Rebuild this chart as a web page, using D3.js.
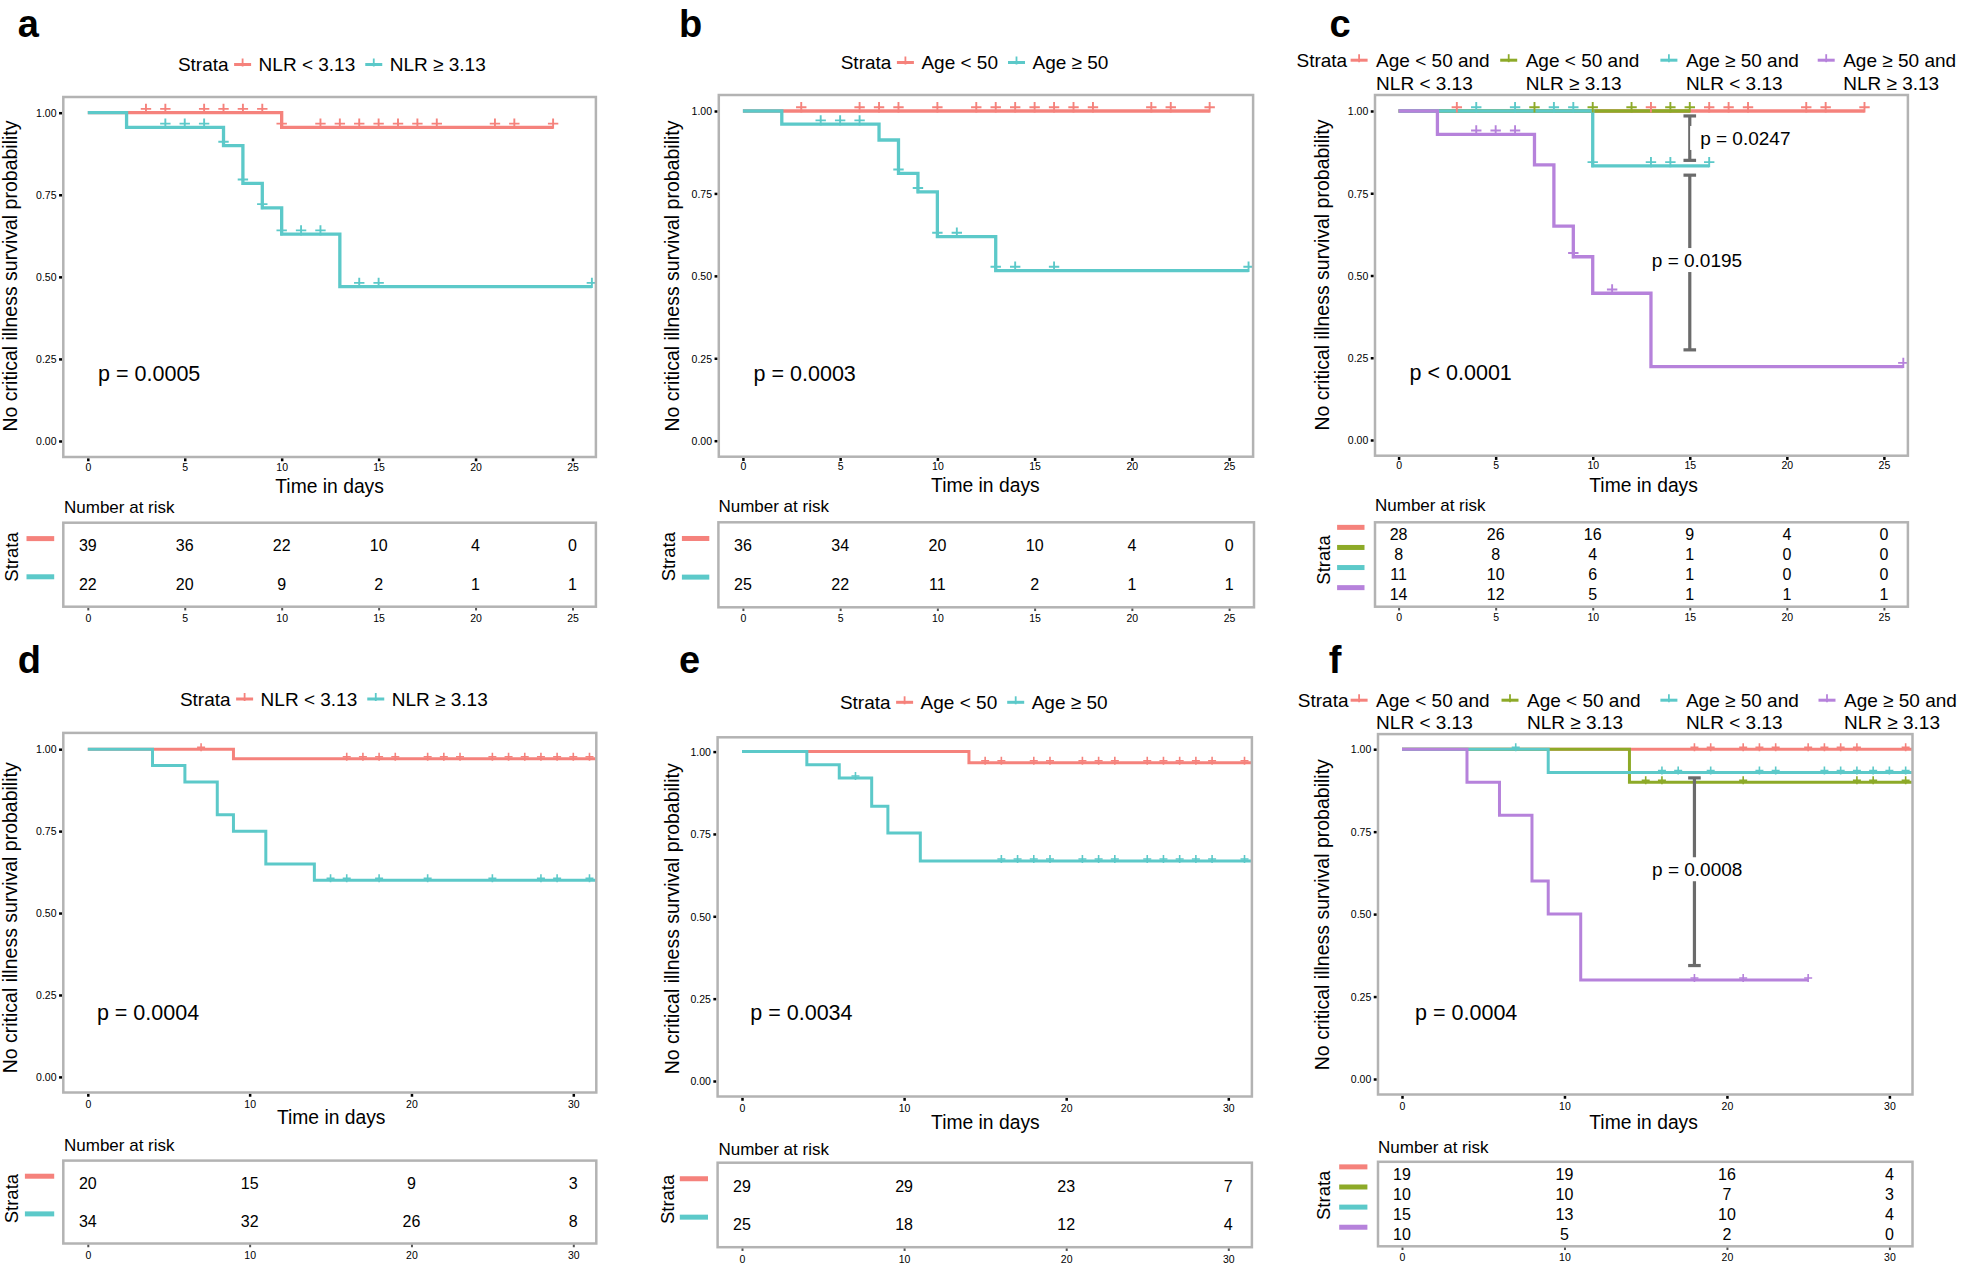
<!DOCTYPE html>
<html><head><meta charset="utf-8">
<script src="https://cdn.jsdelivr.net/npm/d3@7"></script>
<style>body{margin:0;background:#fff;}</style>
</head><body>
<script>
// ---------------- DATA ----------------
const RED = "#F5827C", GREEN = "#8DAA28", TEAL = "#5CC9C9", PURPLE = "#B682DB", BRACKET = "#6B6B6B";

const yTicks = [0, 0.25, 0.5, 0.75, 1];
const xTicks25 = [0, 5, 10, 15, 20, 25];
const xTicks30 = [0, 10, 20, 30];

// Panel a : NLR
const aCats = ["NLR < 3.13", "NLR \u2265 3.13"];
const aLowTime = [0, 10, 24];
const aLowSurv = [1, 0.955, 0.955];
const aLowCens = [3, 4, 6, 7, 8, 9, 10, 12, 13, 14, 15, 16, 17, 18, 21, 22, 24];
const aHighTime = [0, 2, 7, 8, 9, 10, 13, 26];
const aHighSurv = [1, 0.955, 0.90, 0.785, 0.71, 0.63, 0.47, 0.47];
const aHighCens = [4, 5, 6, 7, 8, 9, 10, 11, 12, 14, 15, 26];
const aRiskLow = [39, 36, 22, 10, 4, 0];
const aRiskHigh = [22, 20, 9, 2, 1, 1];
const aP = "p = 0.0005";

// Panel b : Age
const bCats = ["Age < 50", "Age \u2265 50"];
const bYoungTime = [0, 24];
const bYoungSurv = [1, 1];
const bYoungCens = [3, 6, 7, 8, 10, 12, 13, 14, 15, 16, 17, 18, 21, 22, 24];
const bOldTime = [0, 2, 7, 8, 9, 10, 13, 26];
const bOldSurv = [1, 0.96, 0.912, 0.811, 0.755, 0.619, 0.516, 0.516];
const bOldCens = [4, 5, 6, 8, 9, 10, 11, 13, 14, 16, 26];
const bRiskYoung = [36, 34, 20, 10, 4, 0];
const bRiskOld = [25, 22, 11, 2, 1, 1];
const bP = "p = 0.0003";

// Panel c : Age x NLR
const cCats = ["Age < 50 and\nNLR < 3.13", "Age < 50 and\nNLR \u2265 3.13", "Age \u2265 50 and\nNLR < 3.13", "Age \u2265 50 and\nNLR \u2265 3.13"];
const cG1Time = [0, 24], cG1Surv = [1, 1];
const cG1Cens = [3, 13, 16, 17, 18, 21, 22, 24];
const cG2Time = [0, 15], cG2Surv = [1, 1];
const cG2Cens = [7, 10, 12, 14, 15];
const cG3Time = [0, 10, 16], cG3Surv = [1, 0.833, 0.833];
const cG3Cens = [4, 6, 8, 9, 10, 13, 14, 16];
const cG4Time = [0, 2, 7, 8, 9, 10, 13, 26];
const cG4Surv = [1, 0.929, 0.836, 0.65, 0.557, 0.446, 0.223, 0.223];
const cG4Cens = [4, 5, 6, 9, 11, 26];
const cRisk1 = [28, 26, 16, 9, 4, 0];
const cRisk2 = [8, 8, 4, 1, 0, 0];
const cRisk3 = [11, 10, 6, 1, 0, 0];
const cRisk4 = [14, 12, 5, 1, 1, 1];
const cP = "p < 0.0001";
const cBracketX = [15, 15];
const cBracketLow = [0.85, 0.274];
const cBracketHigh = [0.985, 0.805];
const cBracketText = ["p = 0.0247", "p = 0.0195"];
const cBracketTextX = [17.86, 15.37];
const cBracketTextY = [0.918, 0.547];

// Panel d : NLR (second cohort)
const dCats = ["NLR < 3.13", "NLR \u2265 3.13"];
const dLowTime = [0, 9, 31.6], dLowSurv = [1, 0.971, 0.971];
const dLowCens = [7, 16, 17, 18, 19, 21, 22, 23, 25, 26, 27, 28, 29, 30, 31];
const dHighTime = [0, 4, 6, 8, 9, 11, 14, 31.6];
const dHighSurv = [1, 0.95, 0.90, 0.80, 0.75, 0.65, 0.60, 0.60];
const dHighCens = [15, 16, 18, 21, 25, 28, 29, 31];
const dRiskLow = [20, 15, 9, 3];
const dRiskHigh = [34, 32, 26, 8];
const dP = "p = 0.0004";

// Panel e : Age (second cohort)
const eCats = ["Age < 50", "Age \u2265 50"];
const eYoungTime = [0, 14, 31.6], eYoungSurv = [1, 0.966, 0.966];
const eYoungCens = [15, 16, 18, 19, 21, 22, 23, 25, 26, 27, 28, 29, 31];
const eOldTime = [0, 4, 6, 8, 9, 11, 31.6];
const eOldSurv = [1, 0.96, 0.92, 0.834, 0.753, 0.668, 0.668];
const eOldCens = [7, 16, 17, 18, 19, 21, 22, 23, 25, 26, 27, 28, 29, 31];
const eRiskYoung = [29, 29, 23, 7];
const eRiskOld = [25, 18, 12, 4];
const eP = "p = 0.0034";

// Panel f : Age x NLR (second cohort)
const fCats = cCats;
const fG1Time = [0, 31.6], fG1Surv = [1, 1];
const fG1Cens = [18, 19, 21, 22, 23, 25, 26, 27, 28, 31];
const fG2Time = [0, 14, 31.6], fG2Surv = [1, 0.90, 0.90];
const fG2Cens = [15, 16, 21, 28, 29, 31];
const fG3Time = [0, 9, 31.6], fG3Surv = [1, 0.929, 0.929];
const fG3Cens = [7, 16, 17, 19, 22, 23, 26, 27, 28, 29, 30, 31];
const fG4Time = [0, 4, 6, 8, 9, 11, 25];
const fG4Surv = [1, 0.90, 0.80, 0.60, 0.50, 0.30, 0.30];
const fG4Cens = [18, 21, 25];
const fRisk1 = [19, 19, 16, 4];
const fRisk2 = [10, 10, 7, 3];
const fRisk3 = [15, 13, 10, 4];
const fRisk4 = [10, 5, 2, 0];
const fP = "p = 0.0004";
const fBracketX = [18];
const fBracketLow = [0.344];
const fBracketHigh = [0.913];
const fBracketText = ["p = 0.0008"];
const fBracketTextX = [18.17];
const fBracketTextY = [0.636];

// ---------------- LAYOUT ----------------
const FONT = '"Liberation Sans", Arial, Helvetica, sans-serif';
const C2 = [RED, TEAL], C4 = [RED, GREEN, TEAL, PURPLE];
function mk(t, s, c) { return {time: t, surv: s, cens: c}; }
function br(xs, lo, hi, tx, lx, ly) { return xs.map((v, i) => ({x: v, lo: lo[i], hi: hi[i], text: tx[i], lx: lx[i], ly: ly[i]})); }

const panels = [
 {letter: "a", cats: aCats, colors: C2, curves: [mk(aLowTime, aLowSurv, aLowCens), mk(aHighTime, aHighSurv, aHighCens)],
  xTicks: xTicks25, risk: [aRiskLow, aRiskHigh], p: aP, brackets: [],
  L: {rect: [63.3, 97, 595.9, 457], xr: [87.8, 572.5], yr: [441, 112.7], letter: [17.8, 36.7], legend: {x: 177.9, y: 71},
      ytitle: [16.5, 276], xtitle: [329.6, 492.5], xtick: 470.7, p: [98.1, 381], thin: false,
      risk: {title: [64, 513.3], box: [63.3, 522.7, 595.9, 606.7], tick: 621.7, strata: [17.8, 557], bar: [26.5, 54.2]}}},
 {letter: "b", cats: bCats, colors: C2, curves: [mk(bYoungTime, bYoungSurv, bYoungCens), mk(bOldTime, bOldSurv, bOldCens)],
  xTicks: xTicks25, risk: [bRiskYoung, bRiskOld], p: bP, brackets: [],
  L: {rect: [718.8, 95, 1253.1, 456.7], xr: [742.9, 1229.1], yr: [440.7, 111], letter: [679, 36.7], legend: {x: 840.7, y: 69},
      ytitle: [679, 276], xtitle: [985.4, 492.3], xtick: 470, p: [753.6, 381], thin: false,
      risk: {title: [718.4, 512.3], box: [718.4, 522.3, 1254, 607.3], tick: 621.7, strata: [675, 556.7], bar: [681.9, 709.3]}}},
 {letter: "c", cats: cCats, colors: C4, curves: [mk(cG1Time, cG1Surv, cG1Cens), mk(cG2Time, cG2Surv, cG2Cens), mk(cG3Time, cG3Surv, cG3Cens), mk(cG4Time, cG4Surv, cG4Cens)],
  xTicks: xTicks25, risk: [cRisk1, cRisk2, cRisk3, cRisk4], p: cP,
  brackets: br(cBracketX, cBracketLow, cBracketHigh, cBracketText, cBracketTextX, cBracketTextY),
  L: {rect: [1375, 95, 1907.9, 455.7], xr: [1398.6, 1883.9], yr: [440, 111], letter: [1329.5, 36.7],
      legend: {multi: true, y1: 66.7, y2: 90, strataEnd: 1347.2, sw: [1350.6, 1500.2, 1660.4, 1817.7]},
      ytitle: [1329.3, 275], xtitle: [1643.6, 492.3], xtick: 469.3, p: [1409.6, 380], thin: false,
      risk: {title: [1375, 510.7], box: [1375, 522.3, 1907.9, 606.7], tick: 620.7, strata: [1329.5, 560], bar: [1337.1, 1364.5]}}},
 {letter: "d", cats: dCats, colors: C2, curves: [mk(dLowTime, dLowSurv, dLowCens), mk(dHighTime, dHighSurv, dHighCens)],
  xTicks: xTicks30, risk: [dRiskLow, dRiskHigh], p: dP, brackets: [],
  L: {rect: [63.3, 732.9, 596.3, 1092.5], xr: [87.8, 573.3], yr: [1076.9, 749.2], letter: [17.8, 672.9], legend: {x: 179.9, y: 705.5},
      ytitle: [16.5, 917.8], xtitle: [331.2, 1123.9], xtick: 1108.4, p: [96.9, 1019.8], thin: true,
      risk: {title: [64, 1151.2], box: [63.3, 1160.6, 596.3, 1243.5], tick: 1258.6, strata: [17.8, 1198.6], bar: [24.9, 54.2]}}},
 {letter: "e", cats: eCats, colors: C2, curves: [mk(eYoungTime, eYoungSurv, eYoungCens), mk(eOldTime, eOldSurv, eOldCens)],
  xTicks: xTicks30, risk: [eRiskYoung, eRiskOld], p: eP, brackets: [],
  L: {rect: [717.6, 737.3, 1251.9, 1096.5], xr: [742, 1228.3], yr: [1081, 751.6], letter: [679, 672.9], legend: {x: 839.9, y: 708.8},
      ytitle: [679, 918.8], xtitle: [985.4, 1128.8], xtick: 1111.6, p: [750.3, 1019.8], thin: true,
      risk: {title: [718.4, 1155.3], box: [717.6, 1162.7, 1251.9, 1247.2], tick: 1262.7, strata: [674, 1199.4], bar: [679.8, 708]}}},
 {letter: "f", cats: fCats, colors: C4, curves: [mk(fG1Time, fG1Surv, fG1Cens), mk(fG2Time, fG2Surv, fG2Cens), mk(fG3Time, fG3Surv, fG3Cens), mk(fG4Time, fG4Surv, fG4Cens)],
  xTicks: xTicks30, risk: [fRisk1, fRisk2, fRisk3, fRisk4], p: fP,
  brackets: br(fBracketX, fBracketLow, fBracketHigh, fBracketText, fBracketTextX, fBracketTextY),
  L: {rect: [1378, 734.1, 1912.5, 1094.5], xr: [1402, 1889.4], yr: [1079, 749.2], letter: [1328.7, 672.9],
      legend: {multi: true, y1: 706.7, y2: 729.2, strataEnd: 1348.5, sw: [1350.6, 1501.5, 1660.4, 1818.5]},
      ytitle: [1329.3, 914.7], xtitle: [1643.6, 1128.8], xtick: 1109.6, p: [1415.1, 1019.8], thin: true,
      risk: {title: [1378, 1153.3], box: [1378, 1161.8, 1912.5, 1246.3], tick: 1260.6, strata: [1329.5, 1195.3], bar: [1339.2, 1367.4]}}}
];

// ---------------- DRAW ----------------
const svg = d3.select("body").append("svg").attr("width", 1961).attr("height", 1270)
  .style("font-family", FONT);
svg.append("rect").attr("width", 1961).attr("height", 1270).attr("fill", "#fff");

function T(g, x, y, str, size, o = {}) {
  const t = g.append("text").attr("font-size", size).attr("fill", o.fill || "#000")
    .attr("font-family", FONT)
    .attr("text-anchor", o.anchor || "start").attr("font-weight", o.weight || "normal").text(str);
  t.attr("transform", o.rot ? `translate(${x},${y}) rotate(-90)` : `translate(${x},${y})`);
  if (o.dy) t.attr("dy", o.dy);
  return t;
}
const tw = t => t.node().getComputedTextLength();

function stepAt(c, t) {
  let s = c.surv[0];
  for (let i = 0; i < c.time.length; i++) if (c.time[i] <= t) s = c.surv[i];
  return s;
}

const SW = 17;
function swatch(g, x0, yy, col) {
  g.append("line").attr("x1", x0).attr("x2", x0 + SW).attr("y1", yy).attr("y2", yy)
    .attr("stroke", col).attr("stroke-width", 3);
  g.append("line").attr("x1", x0 + SW / 2).attr("x2", x0 + SW / 2).attr("y1", yy - 6).attr("y2", yy + 2)
    .attr("stroke", col).attr("stroke-width", 1.8);
}

const BORDER = "#B3B3B3";

panels.forEach(P => {
  const L = P.L, g = svg.append("g");
  const [x0, y0, x1, y1] = L.rect;
  const x = d3.scaleLinear().domain([0, P.xTicks[P.xTicks.length - 1]]).range(L.xr);
  const y = d3.scaleLinear().domain([0, 1]).range(L.yr);

  T(g, L.letter[0], L.letter[1], P.letter, 38, {weight: "bold"});

  // legend
  if (L.legend.multi) {
    T(g, L.legend.strataEnd, L.legend.y1, "Strata", 19, {anchor: "end"});
    P.cats.forEach((c, i) => {
      const sx = L.legend.sw[i];
      swatch(g, sx, L.legend.y1 - 6.5, P.colors[i]);
      const lines = c.split("\n");
      T(g, sx + 25.5, L.legend.y1, lines[0], 19);
      T(g, sx + 25.5, L.legend.y2, lines[1], 19);
    });
  } else {
    let cx = L.legend.x; const by = L.legend.y;
    const st = T(g, cx, by, "Strata", 19); cx += tw(st) + 5.5;
    P.cats.forEach((c, i) => {
      swatch(g, cx, by - 6.5, P.colors[i]); cx += SW + 7.5;
      const t = T(g, cx, by, c, 19); cx += tw(t) + 10;
    });
  }

  g.append("rect").attr("x", x0).attr("y", y0).attr("width", x1 - x0).attr("height", y1 - y0).attr("fill", "#fff");

  // axes
  const ya = g.append("g").attr("transform", `translate(${x0 - 1.25},0)`)
    .call(d3.axisLeft(y).tickValues(yTicks).tickFormat(d3.format(".2f")).tickSize(3).tickPadding(2.5));
  ya.select(".domain").remove();
  ya.attr("font-family", FONT).attr("font-size", 10.5);
  ya.selectAll(".tick line").attr("stroke", "#000").attr("stroke-width", 2.5);
  ya.selectAll(".tick text").attr("fill", "#000").attr("dy", "0.36em");

  const xaY = y1 + 1.25;
  const xa = g.append("g").attr("transform", `translate(0,${xaY})`)
    .call(d3.axisBottom(x).tickValues(P.xTicks).tickSize(3));
  xa.select(".domain").remove();
  xa.attr("font-family", FONT).attr("font-size", 10.5);
  xa.selectAll(".tick line").attr("stroke", "#000").attr("stroke-width", 2.5);
  xa.selectAll(".tick text").attr("fill", "#000").attr("y", L.xtick - xaY).attr("dy", 0);

  // curves
  const cid = "clip-" + P.letter;
  g.append("clipPath").attr("id", cid).append("rect")
    .attr("x", x0).attr("y", y0).attr("width", x1 - x0).attr("height", y1 - y0);
  const pg = g.append("g").attr("clip-path", `url(#${cid})`);
  const lw = L.thin ? 3 : 3.3;
  const line = d3.line().x(d => x(d[0])).y(d => y(d[1])).curve(d3.curveStepAfter);
  P.curves.forEach((c, i) => {
    pg.append("path").attr("d", line(c.time.map((t, k) => [t, c.surv[k]])))
      .attr("fill", "none").attr("stroke", P.colors[i]).attr("stroke-width", lw)
      .attr("stroke-linejoin", "miter").attr("stroke-linecap", "butt");
  });
  const ms = L.thin ? 4 : 5.2, moff = L.thin ? 2 : 3.8;
  P.curves.forEach((c, i) => {
    pg.selectAll(null).data(c.cens).enter().append("path")
      .attr("transform", t => `translate(${x(t)},${y(stepAt(c, t)) - moff})`)
      .attr("d", `M${-ms},0H${ms}M0,${-ms}V${ms}`)
      .attr("stroke", P.colors[i]).attr("stroke-width", L.thin ? 1.6 : 1.9).attr("fill", "none");
  });

  // pairwise brackets
  P.brackets.forEach(b => {
    const bx = x(b.x);
    g.append("line").attr("x1", bx).attr("x2", bx).attr("y1", y(b.hi)).attr("y2", y(b.lo))
      .attr("stroke", BRACKET).attr("stroke-width", 3.2);
    [b.hi, b.lo].forEach(v => g.append("line").attr("x1", bx - 6.3).attr("x2", bx + 6.3)
      .attr("y1", y(v)).attr("y2", y(v)).attr("stroke", BRACKET).attr("stroke-width", 3.2));
    const lbg = g.append("rect").attr("fill", "#fff");
    const t = T(g, x(b.lx), y(b.ly), b.text, 19, {anchor: "middle", dy: "0.36em"});
    const w = tw(t);
    lbg.attr("x", x(b.lx) - w / 2 - 10).attr("width", w + 20)
      .attr("y", y(b.ly) - 12).attr("height", 24);
  });

  g.append("rect").attr("x", x0).attr("y", y0).attr("width", x1 - x0).attr("height", y1 - y0)
    .attr("fill", "none").attr("stroke", BORDER).attr("stroke-width", 2.5);

  T(g, L.p[0], L.p[1], P.p, 21.5);
  T(g, L.xtitle[0], L.xtitle[1], "Time in days", 19.3, {anchor: "middle"});
  T(g, L.ytitle[0], L.ytitle[1], "No critical illness survival probability", 19.5, {anchor: "middle", rot: true});

  // risk table
  const R = L.risk;
  T(g, R.title[0], R.title[1], "Number at risk", 17);
  const [bx0, by0, bx1, by1] = R.box;
  const n = P.risk.length;
  const yr = d3.scaleLinear().domain([0.4, n + 0.6]).range([by0, by1]);
  P.risk.forEach((row, i) => {
    row.forEach((v, j) => T(g, x(P.xTicks[j]), yr(i + 1), String(v), 16, {anchor: "middle", dy: "0.36em"}));
    g.append("rect").attr("x", R.bar[0]).attr("width", R.bar[1] - R.bar[0])
      .attr("y", yr(i + 1) - 7 - 2.5).attr("height", 5).attr("fill", P.colors[i]);
  });
  g.append("rect").attr("x", bx0).attr("y", by0).attr("width", bx1 - bx0).attr("height", by1 - by0)
    .attr("fill", "none").attr("stroke", BORDER).attr("stroke-width", 2.5);
  const ra = g.append("g").attr("transform", `translate(0,${by1 + 1.25})`)
    .call(d3.axisBottom(x).tickValues(P.xTicks).tickSize(2.5));
  ra.select(".domain").remove();
  ra.attr("font-family", FONT).attr("font-size", 10.5);
  ra.selectAll(".tick line").attr("stroke", "#555").attr("stroke-width", 2);
  ra.selectAll(".tick text").attr("fill", "#000").attr("y", R.tick - by1 - 1.25).attr("dy", 0);
  T(g, R.strata[0], R.strata[1], "Strata", 18.5, {anchor: "middle", rot: true});
});
</script>
</body></html>
